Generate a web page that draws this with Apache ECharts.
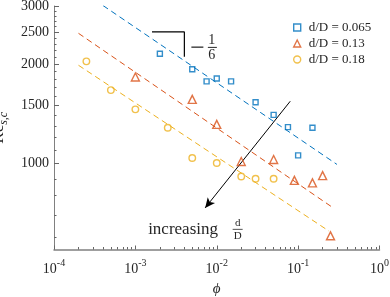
<!DOCTYPE html>
<html><head><meta charset="utf-8">
<script src="https://cdn.jsdelivr.net/npm/echarts@6/dist/echarts.min.js"></script>
<style>html,body{margin:0;padding:0;background:#fff}#c{width:390px;height:297px}</style>
</head><body><div id="c"></div>
<script>
// ---- data ----
const seriesNames = ['d/D = 0.065', 'd/D = 0.13', 'd/D = 0.18'];
const phi065 = [0.002, 0.005, 0.0075, 0.01, 0.015, 0.03, 0.05, 0.075, 0.1, 0.15];
const re065  = [2150, 1930, 1775, 1810, 1775, 1535, 1405, 1290, 1060, 1285];
const phi13  = [0.001, 0.005, 0.01, 0.02, 0.05, 0.09, 0.15, 0.2, 0.25];
const re13   = [1830, 1565, 1315, 1015, 1030, 890, 875, 920, 605];
const phi18  = [0.00025, 0.0005, 0.001, 0.0025, 0.005, 0.01, 0.02, 0.03, 0.05];
const re18   = [2040, 1670, 1460, 1285, 1040, 1005, 915, 900, 900];
// dashed -1/6 power-law guide lines (end points)
const fitPhi065 = [0.0004, 0.3];  const fitRe065 = [3010, 995];
const fitPhi13  = [0.0002, 0.27]; const fitRe13  = [2480, 735];
const fitPhi18  = [0.0002, 0.24]; const fitRe18  = [1985, 625];
// slope triangle and arrow annotations
const slopePhi = [0.0016, 0.004, 0.004]; const slopeRe = [2505, 2505, 2105];
const arrowPhi = [0.08, 0.0072];         const arrowRe = [1545, 735];
// axis ticks
const xTicks = [1e-4, 1e-3, 1e-2, 1e-1, 1];
const yTicks = [1000, 1500, 2000, 2500, 3000];
const yRange = [550, 3000];
const xRange = [1e-4, 1];

const xMinor = [];
for (let e = -4; e < 0; e++) for (let m = 2; m <= 9; m++) xMinor.push(+(m * Math.pow(10, e)).toPrecision(3));
const yMinor = [];
for (let v = 600; v <= 2900; v += 100) if (yTicks.indexOf(v) < 0) yMinor.push(v);

const colors = ['#0072BD', '#D95319', '#EDB120'];
const symbols = ['rect', 'triangle', 'circle'];
const symSizes = [5, 8, 6.5];
const FONT = 'Liberation Serif';
const TXT = '#262626';
const AX = '#808080';

const zip = (a, b) => a.map((v, i) => [v, b[i]]);
const pts = [zip(phi065, re065), zip(phi13, re13), zip(phi18, re18)];
const fits = [zip(fitPhi065, fitRe065), zip(fitPhi13, fitRe13), zip(fitPhi18, fitRe18)];

const chart = echarts.init(document.getElementById('c'), null, {renderer: 'canvas'});

const series = [];
fits.forEach((d, i) => series.push({
  type: 'line', data: d, showSymbol: false, symbol: 'none', silent: true, z: 1,
  lineStyle: {color: colors[i], width: 1, type: [6, 4]}
}));
series.push({
  type: 'line', data: zip(slopePhi, slopeRe), symbol: 'none', silent: true, z: 3,
  lineStyle: {color: '#000', width: 1.2},
  markLine: {
    silent: true, animation: false, symbol: ['none', 'arrow'], symbolSize: [7, 10],
    lineStyle: {color: '#000', width: 1, type: 'solid'}, label: {show: false},
    data: [[{coord: [arrowPhi[0], arrowRe[0]]}, {coord: [arrowPhi[1], arrowRe[1]]}]]
  }
});
pts.forEach((d, i) => series.push({
  name: seriesNames[i], type: 'scatter', data: d, symbol: symbols[i], symbolSize: symSizes[i], z: 5,
  itemStyle: {color: 'rgba(255,255,255,0)', borderColor: colors[i], borderWidth: 1.4}
}));

const xLabelRich = {
  a: {fontFamily: FONT, fontSize: 14, color: TXT, lineHeight: 18, verticalAlign: 'bottom'},
  b: {fontFamily: FONT, fontSize: 10, color: TXT, lineHeight: 10, verticalAlign: 'top'}
};

chart.setOption({
  animation: false,
  backgroundColor: '#fff',
  grid: {left: 54, right: 10.5, top: 6, bottom: 47.5, containLabel: false, outerBoundsMode: 'none'},
  legend: {
    orient: 'vertical', left: 288, top: 15, itemGap: 1, itemWidth: 7, itemHeight: 7,
    data: seriesNames.map((n, i) => ({name: n, icon: symbols[i],
      itemStyle: {color: 'rgba(255,255,255,0)', borderColor: colors[i], borderWidth: 1.4}})),
    textStyle: {fontFamily: FONT, fontSize: 13, color: TXT, lineHeight: 15, padding: [0, 0, 0, 3]}
  },
  xAxis: [{
    type: 'log', logBase: 10, min: xRange[0], max: xRange[1],
    name: 'ϕ', nameLocation: 'middle', nameGap: 31,
    nameTextStyle: {fontFamily: FONT, fontStyle: 'italic', fontSize: 15, color: TXT},
    axisLine: {show: true, lineStyle: {color: AX, width: 1.5}},
    axisTick: {show: true, inside: true, length: 4, customValues: xTicks, lineStyle: {color: '#666'}},
    minorTick: {show: false},
    axisLabel: {customValues: xTicks, margin: 9, rich: xLabelRich,
      formatter: v => '{a|10}{b|' + Math.round(Math.log10(v)) + '}'},
    splitLine: {show: false}
  }, {
    type: 'log', logBase: 10, min: xRange[0], max: xRange[1], position: 'bottom',
    axisLine: {show: false}, axisLabel: {show: false}, splitLine: {show: false},
    axisTick: {show: true, inside: true, length: 2.5, customValues: xMinor, lineStyle: {color: '#666'}}
  }],
  yAxis: [{
    type: 'log', logBase: 10, min: yRange[0], max: yRange[1],
    name: '{a|Re}{b|s,c}', nameLocation: 'middle', nameGap: 33, nameRotate: 90,
    nameTextStyle: {rich: {
      a: {fontFamily: FONT, fontSize: 17, color: TXT, lineHeight: 20, verticalAlign: 'top'},
      b: {fontFamily: FONT, fontSize: 12, fontStyle: 'italic', color: TXT, lineHeight: 14, verticalAlign: 'bottom'}}},
    axisLine: {show: true, lineStyle: {color: AX, width: 1}},
    axisTick: {show: true, inside: true, length: 5, customValues: yTicks, lineStyle: {color: '#666'}},
    axisLabel: {customValues: yTicks, fontFamily: FONT, fontSize: 14, color: TXT, margin: 5,
      formatter: v => String(Math.round(v))},
    splitLine: {show: false}
  }, {
    type: 'log', logBase: 10, min: yRange[0], max: yRange[1], position: 'left',
    axisLine: {show: false}, axisLabel: {show: false}, splitLine: {show: false},
    axisTick: {show: true, inside: true, length: 2.5, customValues: yMinor, lineStyle: {color: '#666'}}
  }],
  series: series
});

// text annotations anchored to data positions
const corner = chart.convertToPixel({gridIndex: 0}, [slopePhi[1], slopeRe[1]]);
const tip = chart.convertToPixel({gridIndex: 0}, [arrowPhi[1], arrowRe[1]]);
chart.setOption({graphic: [
  {type: 'rect', shape: {x: corner[0] + 7, y: corner[1] + 14.5, width: 12, height: 1.6}, style: {fill: '#555'}},
  {type: 'text', x: corner[0] + 27.5, y: corner[1] + 8, style: {text: '1', fontFamily: FONT, fontSize: 14, fill: TXT, align: 'center', verticalAlign: 'middle'}},
  {type: 'rect', shape: {x: corner[0] + 23.5, y: corner[1] + 15, width: 9, height: 1}, style: {fill: TXT}},
  {type: 'text', x: corner[0] + 27.5, y: corner[1] + 23, style: {text: '6', fontFamily: FONT, fontSize: 14, fill: TXT, align: 'center', verticalAlign: 'middle'}},
  {type: 'text', x: tip[0] - 57, y: tip[1] + 22, style: {text: 'increasing', fontFamily: FONT, fontSize: 17, fill: TXT, align: 'left', verticalAlign: 'middle'}},
  {type: 'text', x: tip[0] + 32.5, y: tip[1] + 15, style: {text: 'd', fontFamily: FONT, fontSize: 11, fill: TXT, align: 'center', verticalAlign: 'middle'}},
  {type: 'rect', shape: {x: tip[0] + 27.5, y: tip[1] + 21, width: 10, height: 0.8}, style: {fill: TXT}},
  {type: 'text', x: tip[0] + 32.5, y: tip[1] + 28, style: {text: 'D', fontFamily: FONT, fontSize: 11, fill: TXT, align: 'center', verticalAlign: 'middle'}}
]});
</script>
</body></html>
